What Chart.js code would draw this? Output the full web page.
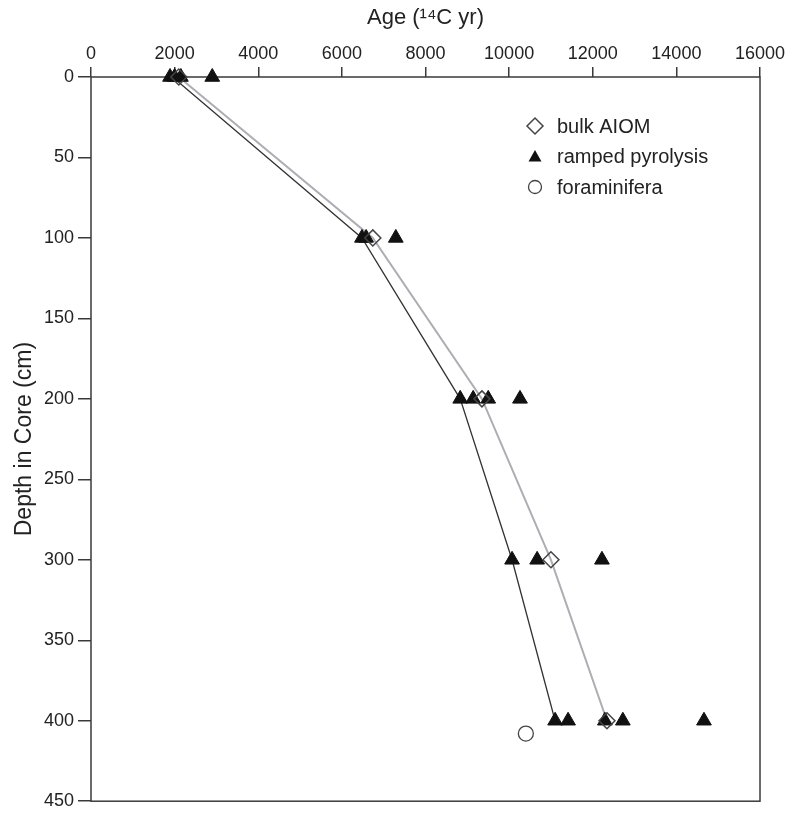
<!DOCTYPE html>
<html>
<head>
<meta charset="utf-8">
<script src="https://cdn.jsdelivr.net/npm/chart.js@4.4.0/dist/chart.umd.min.js"></script>
<style>
  html, body { margin: 0; background: #fff; }
</style>
</head>
<body>
<canvas id="grafico" width="789" height="816"></canvas>
<script>
// profundidades (cm) e idades (14C yr)
const depths = [0, 100, 200, 300, 400];
const bulkAiom = [2100, 6740, 9350, 11000, 12340];
const youngestRp = [1950, 6480, 8830, 10070, 11100];

const rampDepths = [0, 0, 0, 0, 100, 100, 100, 200, 200, 200, 200, 300, 300, 300, 400, 400, 400, 400, 400];
const rampAges = [1890, 2000, 2150, 2900, 6480, 6580, 7290, 8830, 9140, 9500, 10260, 10070, 10670, 12220, 11100, 11410, 12290, 12720, 14660];

const foramDepths = [408];
const foramAges = [10400];

const xTicks = [0, 2000, 4000, 6000, 8000, 10000, 12000, 14000, 16000];
const yTicks = [0, 50, 100, 150, 200, 250, 300, 350, 400, 450];

const legendItems = ["bulk AIOM", "ramped pyrolysis", "foraminifera"];

const pts = (xs, ys) => xs.map((x, i) => ({ x: x, y: ys[i] }));
const FONT = "'Liberation Sans', Arial, sans-serif";

// caixa em volta da area do grafico
const moldura = {
  id: "moldura",
  beforeDatasetsDraw(chart) {
    const a = chart.chartArea;
    const ctx = chart.ctx;
    ctx.save();
    ctx.strokeStyle = "#3a3a3a";
    ctx.lineWidth = 1.5;
    ctx.strokeRect(a.left, a.top, a.right - a.left, a.bottom - a.top);
    ctx.restore();
  },
};

// legenda dentro do grafico
const legenda = {
  id: "legenda",
  afterDatasetsDraw(chart) {
    const a = chart.chartArea;
    const ctx = chart.ctx;
    const mx = a.right - 225;
    const tx = a.right - 203;
    ctx.save();
    ctx.font = "20px " + FONT;
    ctx.textBaseline = "middle";
    ctx.fillStyle = "#222";
    legendItems.forEach((txt, i) => {
      const y = a.top + 49 + i * 30.5;
      ctx.beginPath();
      if (i === 0) {
        ctx.moveTo(mx - 8, y);
        ctx.lineTo(mx, y - 8);
        ctx.lineTo(mx + 8, y);
        ctx.lineTo(mx, y + 8);
        ctx.closePath();
        ctx.strokeStyle = "#444";
        ctx.lineWidth = 1.5;
        ctx.stroke();
      } else if (i === 1) {
        ctx.moveTo(mx, y - 6.5);
        ctx.lineTo(mx + 6.5, y + 5);
        ctx.lineTo(mx - 6.5, y + 5);
        ctx.closePath();
        ctx.fillStyle = "#111";
        ctx.fill();
      } else {
        ctx.arc(mx, y, 6.5, 0, Math.PI * 2);
        ctx.strokeStyle = "#444";
        ctx.lineWidth = 1.3;
        ctx.stroke();
      }
      ctx.fillStyle = "#222";
      ctx.fillText(txt, tx, y + 1);
    });
    ctx.restore();
  },
};

const ctx = document.getElementById("grafico").getContext("2d");

new Chart(ctx, {
  type: "scatter",
  data: {
    datasets: [
      {
        label: "bulk AIOM",
        data: pts(bulkAiom, depths),
        pointStyle: "rectRot",
        pointRadius: 8,
        pointBackgroundColor: "rgba(255,255,255,0)",
        pointBorderColor: "#444",
        pointBorderWidth: 1.5,
        showLine: false,
        clip: false,
        order: 1,
      },
      {
        label: "ramped pyrolysis",
        data: pts(rampAges, rampDepths),
        pointStyle: "triangle",
        pointRadius: 8.5,
        pointBackgroundColor: "#111",
        pointBorderColor: "#111",
        pointBorderWidth: 1,
        showLine: false,
        clip: false,
        order: 2,
      },
      {
        label: "foraminifera",
        data: pts(foramAges, foramDepths),
        pointStyle: "circle",
        pointRadius: 7.5,
        pointBackgroundColor: "#fff",
        pointBorderColor: "#444",
        pointBorderWidth: 1.3,
        showLine: false,
        clip: false,
        order: 3,
      },
      {
        label: "linha AIOM",
        data: pts(bulkAiom, depths),
        showLine: true,
        pointRadius: 0,
        borderColor: "#adadb3",
        borderWidth: 2,
        clip: false,
        order: 4,
      },
      {
        label: "linha RP",
        data: pts(youngestRp, depths),
        showLine: true,
        pointRadius: 0,
        borderColor: "#333",
        borderWidth: 1.3,
        clip: false,
        order: 5,
      },
    ],
  },
  options: {
    responsive: false,
    animation: false,
    devicePixelRatio: 1,
    layout: { padding: { left: 0, top: 0, right: 29, bottom: 9 } },
    plugins: {
      legend: { display: false },
      tooltip: { enabled: false },
    },
    scales: {
      x: {
        type: "linear",
        position: "top",
        min: 0,
        max: 16000,
        afterBuildTicks: (s) => { s.ticks = xTicks.map((v) => ({ value: v })); },
        afterFit: (s) => { s.height = 77; },
        ticks: {
          callback: (v) => String(v),
          font: { family: FONT, size: 18 },
          color: "#222",
          padding: 2,
          maxRotation: 0,
        },
        grid: { drawOnChartArea: false, drawTicks: true, tickLength: 10, color: "#3a3a3a", lineWidth: 1.5 },
        border: { display: false },
        title: {
          display: true,
          text: "Age (¹⁴C yr)",
          font: { family: FONT, size: 22 },
          color: "#222",
          padding: { top: 5, bottom: 0 },
        },
      },
      y: {
        type: "linear",
        reverse: true,
        min: 0,
        max: 450,
        afterBuildTicks: (s) => { s.ticks = yTicks.map((v) => ({ value: v })); },
        afterFit: (s) => { s.width = 91; },
        ticks: {
          callback: (v) => String(v),
          font: { family: FONT, size: 18 },
          color: "#222",
          padding: 4,
        },
        grid: { drawOnChartArea: false, drawTicks: true, tickLength: 13, color: "#3a3a3a", lineWidth: 1.5 },
        border: { display: false },
        title: {
          display: true,
          text: "Depth in Core (cm)",
          font: { family: FONT, size: 23 },
          color: "#222",
          padding: { top: 11, bottom: 0 },
        },
      },
    },
  },
  plugins: [moldura, legenda],
});
</script>
</body>
</html>
